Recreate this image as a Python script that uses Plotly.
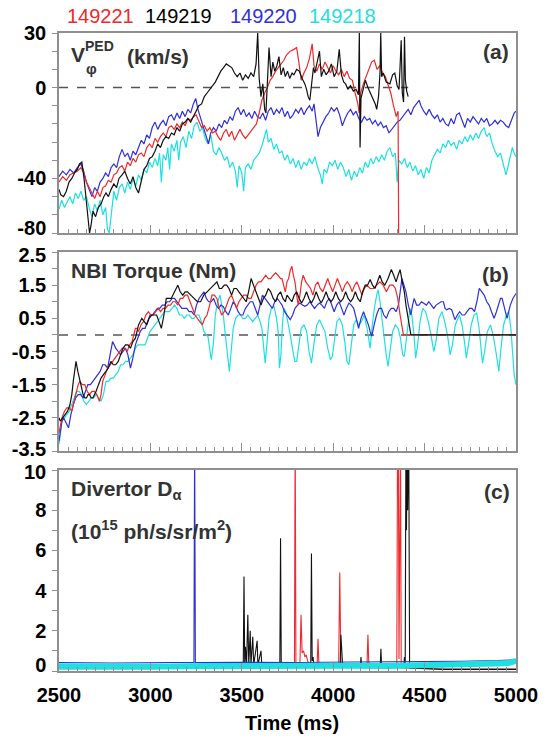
import plotly.graph_objects as go

# ---------------- data ----------------
SHOTS = ["149221", "149219", "149220", "149218"]
COLORS = {"149221": "#ee2a2a", "149219": "#111111", "149220": "#2f2fdc", "149218": "#1ee0e0"}

# Panel (a): pedestal toroidal rotation (plotted on the figure's visual scale)
a_cyan_t = [2500,2515,2530,2545,2560,2575,2590,2605,2620,2635,2650,2665,2680,2695,2710,2725,2740,2755,2765,2775,2785,2800,2815,2830,2845,2860,2875,2890,2905,2920,2935,2950,2965,2980,2995,3010,3025,3040,3050,3060,3070,3085,3095,3105,3115,3130,3145,3155,3165,3180,3195,3210,3225,3240,3255,3270,3285,3300,3315,3330,3345,3360,3375,3390,3405,3420,3435,3450,3465,3475,3485,3500,3510,3520,3535,3550,3565,3580,3595,3610,3625,3635,3645,3660,3675,3690,3705,3720,3735,3750,3765,3780,3795,3810,3825,3840,3855,3870,3885,3900,3915,3930,3940,3950,3965,3980,3995,4010,4025,4040,4055,4070,4085,4100,4115,4130,4145,4160,4175,4190,4205,4220,4235,4250,4265,4280,4295,4310,4325,4340,4350,4360,4375,4390,4405,4420,4435,4450,4465,4480,4495,4510,4525,4540,4555,4570,4585,4600,4615,4630,4645,4660,4675,4690,4705,4720,4735,4750,4765,4780,4795,4810,4825,4840,4855,4870,4885,4900,4915,4930,4945,4955,4965,4980,4990,5000]
a_cyan_v = [-67,-62,-66,-63,-60,-64,-58,-61,-57,-62,-60,-66,-71,-64,-68,-62,-70,-66,-78,-80,-70,-57,-62,-55,-53,-58,-52,-56,-50,-54,-48,-51,-45,-47,-41,-44,-39,-43,-36,-52,-37,-40,-33,-45,-31,-35,-29,-40,-30,-27,-33,-24,-28,-21,-19,-24,-22,-28,-31,-26,-35,-37,-33,-36,-40,-38,-44,-41,-46,-55,-43,-47,-57,-44,-42,-45,-40,-38,-36,-32,-26,-23,-30,-28,-34,-31,-36,-35,-40,-37,-42,-39,-44,-40,-45,-41,-43,-39,-42,-38,-44,-48,-53,-45,-47,-41,-43,-40,-45,-41,-44,-49,-45,-51,-46,-49,-44,-47,-41,-44,-39,-42,-38,-41,-37,-40,-35,-33,-38,-36,-52,-40,-42,-39,-44,-41,-46,-43,-48,-45,-50,-44,-47,-40,-37,-34,-36,-31,-33,-29,-32,-30,-34,-29,-31,-27,-30,-26,-29,-25,-28,-24,-22,-27,-25,-31,-35,-38,-36,-42,-48,-44,-39,-33,-36,-38]

a_blue_t = [2500,2520,2540,2560,2580,2600,2620,2635,2650,2665,2680,2695,2710,2725,2740,2755,2770,2785,2800,2815,2830,2845,2860,2875,2890,2905,2920,2935,2950,2965,2980,2995,3010,3025,3040,3055,3070,3085,3100,3115,3130,3145,3160,3175,3190,3205,3220,3235,3248,3260,3275,3290,3305,3318,3330,3345,3360,3375,3390,3405,3420,3435,3450,3465,3480,3495,3510,3525,3540,3555,3570,3585,3600,3615,3630,3645,3660,3675,3690,3705,3720,3735,3750,3765,3780,3795,3810,3825,3840,3855,3870,3885,3895,3905,3917,3930,3945,3960,3975,3990,4005,4020,4035,4050,4065,4080,4095,4110,4125,4140,4155,4170,4185,4200,4215,4230,4245,4260,4275,4290,4305,4320,4335,4350,4365,4380,4395,4410,4425,4440,4455,4470,4480,4495,4510,4525,4540,4555,4570,4585,4600,4615,4630,4645,4660,4675,4690,4705,4720,4735,4750,4765,4780,4795,4810,4825,4840,4855,4870,4885,4900,4915,4930,4945,4960,4975,4990,5000]
a_blue_v = [-49,-46,-48,-45,-47,-44,-42,-46,-52,-56,-60,-55,-57,-52,-50,-47,-49,-44,-42,-44,-38,-34,-38,-36,-40,-35,-37,-33,-29,-31,-26,-28,-22,-19,-23,-20,-18,-21,-16,-15,-18,-14,-17,-13,-16,-12,-14,-9,-6,-12,-17,-21,-27,-31,-25,-22,-24,-20,-22,-18,-20,-16,-18,-13,-11,-15,-12,-16,-14,-17,-13,-16,-17,-14,-18,-13,-11,-15,-12,-14,-11,-16,-13,-17,-15,-12,-14,-11,-15,-12,-10,-13,-9,-18,-27,-22,-19,-16,-14,-11,-13,-11,-15,-21,-17,-14,-12,-15,-13,-17,-19,-16,-18,-17,-20,-18,-21,-19,-22,-21,-25,-23,-21,-19,-18,-16,-14,-12,-15,-11,-9,-7,-10,-13,-15,-12,-15,-17,-15,-19,-17,-20,-21,-17,-20,-15,-14,-18,-22,-17,-19,-16,-18,-20,-17,-19,-17,-21,-20,-18,-20,-18,-19,-21,-22,-18,-14,-13]

a_red_t = [2500,2520,2540,2560,2580,2600,2620,2635,2650,2665,2680,2695,2710,2725,2740,2755,2770,2785,2800,2815,2830,2845,2860,2875,2890,2905,2920,2935,2950,2965,2980,2995,3010,3025,3040,3055,3070,3085,3100,3115,3130,3145,3160,3175,3190,3205,3220,3235,3250,3265,3280,3295,3310,3325,3340,3355,3370,3385,3400,3415,3430,3445,3460,3475,3490,3505,3520,3535,3550,3565,3580,3595,3610,3625,3640,3655,3670,3685,3700,3715,3730,3745,3765,3785,3800,3812,3825,3840,3855,3870,3885,3895,3910,3925,3940,3955,3970,3985,4000,4015,4030,4045,4060,4075,4090,4105,4120,4135,4142,4150,4165,4180,4195,4210,4225,4240,4255,4270,4285,4300,4315,4330,4345,4355,4358]
a_red_v = [-52,-49,-51,-48,-47,-46,-44,-47,-52,-55,-58,-61,-57,-60,-55,-54,-51,-52,-48,-47,-44,-43,-46,-41,-43,-39,-41,-37,-36,-38,-33,-31,-33,-28,-30,-27,-25,-27,-22,-21,-23,-20,-22,-19,-21,-17,-18,-16,-15,-19,-22,-21,-24,-22,-25,-24,-27,-29,-25,-23,-27,-24,-29,-26,-23,-26,-28,-26,-24,-22,-20,-14,-7,-3,0,4,6,9,11,13,15,18,20,21,22,14,4,8,11,16,24,12,9,13,10,14,11,8,12,9,7,10,6,9,5,4,-3,-9,-14,-3,2,6,11,14,15,10,12,8,6,2,-3,-10,-16,-13,-80]

a_black_t = [2500,2510,2525,2540,2555,2570,2585,2600,2612,2625,2637,2650,2660,2667,2675,2686,2700,2715,2730,2745,2757,2770,2785,2800,2815,2828,2845,2860,2875,2890,2905,2920,2935,2950,2965,2980,2995,3010,3025,3040,3055,3070,3085,3100,3115,3130,3145,3160,3175,3190,3205,3220,3235,3250,3265,3280,3295,3310,3325,3340,3355,3370,3385,3400,3415,3430,3445,3460,3475,3490,3505,3520,3535,3550,3565,3578,3587,3595,3605,3615,3625,3632,3640,3649,3660,3670,3680,3692,3703,3715,3727,3738,3750,3762,3775,3785,3800,3815,3830,3845,3854,3863,3872,3882,3892,3900,3912,3925,3935,3948,3961,3975,3990,4005,4020,4033,4045,4058,4068,4080,4095,4110,4125,4138,4143,4147,4152,4165,4176,4190,4203,4215,4230,4238,4248,4256,4260,4265,4274,4290,4310,4325,4337,4350,4360,4366,4372,4378,4385,4390,4395,4402,4410]
a_black_v = [-56,-59,-60,-57,-52,-50,-47,-45,-42,-41,-50,-64,-72,-80,-76,-68,-71,-66,-64,-60,-58,-60,-56,-53,-55,-50,-48,-46,-50,-53,-49,-55,-58,-52,-45,-43,-39,-38,-35,-31,-33,-29,-27,-28,-25,-26,-22,-24,-20,-19,-17,-19,-16,-13,-10,-9,-5,-3,-1,1,3,6,9,11,13,12,11,8,6,8,4,7,5,8,6,13,30,5,-5,2,-12,-14,8,22,6,14,9,12,17,7,11,6,9,5,8,7,10,9,5,2,-1,-5,-7,4,11,8,14,20,6,10,7,9,13,6,9,21,7,3,2,-1,1,-2,-1,-4,30,-33,-6,-1,4,0,-3,-6,-9,-12,-5,8,30,6,8,3,2,7,8,1,-1,12,26,-3,-8,28,4,-2,-5]

# Panel (b): NBI torque
b_black_t = [2500,2507,2520,2534,2547,2560,2570,2578,2586,2593,2603,2614,2623,2632,2641,2650,2659,2667,2676,2685,2694,2703,2716,2730,2743,2757,2770,2784,2797,2810,2824,2837,2850,2864,2877,2891,2904,2918,2935,2953,2967,2980,2993,3007,3020,3034,3047,3060,3074,3087,3100,3114,3132,3150,3163,3177,3190,3203,3221,3239,3257,3275,3292,3310,3328,3346,3364,3377,3390,3404,3417,3430,3444,3457,3471,3484,3497,3510,3524,3537,3551,3564,3578,3591,3605,3618,3631,3645,3658,3672,3685,3698,3712,3725,3738,3747,3760,3774,3787,3800,3814,3827,3840,3854,3867,3881,3894,3907,3921,3934,3947,3961,3974,3988,4001,4014,4028,4041,4055,4068,4082,4095,4108,4121,4135,4148,4161,4175,4188,4202,4215,4228,4242,4255,4268,4282,4300,4318,4331,4344,4355,4366,4378,4389,4398,4407,4416,4425,4700,5000]
b_black_v = [-2.5,-2.6,-2.5,-2.4,-2.3,-2.1,-1.8,-1.4,-1.0,-0.8,-1.1,-1.4,-1.6,-1.8,-1.9,-1.9,-1.8,-1.8,-1.9,-1.9,-1.8,-1.7,-1.5,-1.3,-1.2,-1.1,-1.0,-0.8,-0.9,-0.9,-0.8,-0.6,-0.4,-0.3,-0.3,-0.4,-0.2,-0.1,0.3,0.5,0.4,0.3,0.5,0.6,0.6,0.6,0.4,0.2,0.6,1.1,1.1,1.1,1.3,1.5,1.3,1.2,1.3,1.3,1.2,1.1,1.0,1.0,1.2,1.3,1.4,1.5,1.6,1.4,1.4,1.5,1.5,1.4,1.2,1.4,1.4,1.3,1.2,1.1,1.0,1.3,1.7,1.5,1.3,1.1,0.9,1.1,1.2,1.4,1.3,1.1,1.0,1.2,1.3,1.1,1.0,1.2,1.1,1.0,1.2,1.3,1.1,0.96,1.1,1.3,1.1,0.96,1.1,1.3,1.1,0.96,1.1,1.3,1.1,1.0,1.1,1.3,1.1,1.0,1.1,1.3,1.1,1.0,1.1,1.3,1.1,1.0,1.3,1.5,1.5,1.67,1.5,1.4,1.6,1.8,1.6,1.5,1.7,1.97,1.8,1.6,1.8,1.97,1.6,1.3,0.9,0.6,0.3,0.0,0.0,0.0]

b_red_t = [2500,2508,2516,2530,2543,2556,2570,2583,2596,2605,2614,2627,2641,2654,2667,2680,2694,2707,2721,2730,2739,2752,2766,2780,2793,2806,2819,2833,2846,2860,2873,2886,2900,2909,2918,2927,2935,2948,2962,2975,2989,3002,3016,3029,3043,3056,3069,3083,3096,3110,3123,3136,3150,3163,3177,3190,3203,3217,3230,3244,3257,3270,3284,3297,3310,3324,3337,3350,3364,3377,3390,3404,3417,3430,3444,3457,3471,3484,3497,3510,3524,3537,3551,3564,3578,3591,3605,3618,3631,3645,3658,3672,3685,3698,3712,3720,3729,3738,3747,3756,3765,3774,3782,3791,3800,3809,3818,3827,3836,3850,3863,3876,3889,3903,3916,3929,3943,3956,3970,3983,3997,4010,4023,4037,4050,4064,4077,4090,4104,4117,4130,4144,4157,4170,4184,4202,4220,4238,4255,4273,4291,4309,4327,4340,4353,4366,4375,4384,4700,5000]
b_red_v = [-2.96,-2.7,-2.5,-2.3,-2.2,-2.2,-2.3,-2.0,-1.7,-1.5,-1.4,-1.5,-1.5,-1.7,-1.8,-1.7,-1.7,-1.8,-2.0,-1.8,-1.4,-1.2,-1.0,-0.9,-0.8,-0.7,-0.6,-0.5,-0.4,-0.4,-0.5,-0.3,-0.2,0.0,0.2,0.2,0.1,0.3,0.4,0.6,0.7,0.6,0.6,0.7,0.8,0.7,0.8,0.8,0.9,0.9,1.0,1.0,0.9,1.1,1.1,1.2,1.2,1.0,0.8,0.6,0.5,0.4,0.3,0.5,0.6,0.9,1.2,1.2,1.1,0.8,0.6,0.7,0.9,1.1,1.2,1.0,0.8,1.0,1.1,1.2,1.2,1.1,1.1,1.3,1.5,1.6,1.6,1.7,1.8,1.7,1.7,1.8,1.87,1.8,1.7,1.7,1.5,1.3,1.6,1.7,1.95,2.07,1.8,1.6,1.2,0.9,1.2,1.6,1.8,1.6,1.5,1.4,1.2,1.5,1.6,1.4,1.3,1.5,1.7,1.5,1.3,1.5,1.7,1.5,1.3,1.5,1.6,1.5,1.3,1.5,1.6,1.4,1.2,1.4,1.5,1.4,1.4,1.5,1.6,1.5,1.3,1.5,1.5,1.4,1.1,0.6,0.3,0.0,0.0,0.0]

b_blue_t = [2500,2507,2516,2525,2534,2543,2552,2565,2578,2591,2605,2618,2632,2645,2658,2672,2685,2698,2712,2725,2739,2752,2766,2780,2793,2802,2810,2824,2837,2850,2864,2877,2891,2904,2918,2931,2944,2957,2971,2984,2998,3011,3025,3038,3051,3065,3078,3092,3105,3118,3132,3145,3159,3172,3185,3199,3212,3226,3239,3252,3266,3279,3293,3306,3319,3333,3346,3359,3373,3386,3399,3413,3426,3440,3453,3466,3480,3493,3506,3520,3533,3546,3560,3573,3587,3600,3613,3627,3640,3653,3667,3680,3694,3707,3720,3734,3747,3756,3765,3778,3791,3805,3818,3832,3845,3858,3872,3885,3898,3912,3925,3938,3952,3965,3979,3992,4005,4019,4032,4046,4059,4072,4086,4099,4112,4126,4139,4152,4166,4179,4193,4202,4211,4224,4237,4251,4264,4277,4291,4304,4318,4331,4344,4357,4366,4376,4387,4398,4411,4425,4434,4443,4456,4469,4483,4496,4510,4523,4537,4550,4563,4576,4590,4603,4612,4621,4635,4648,4657,4666,4679,4692,4705,4719,4732,4746,4759,4773,4786,4799,4813,4826,4840,4853,4866,4880,4893,4906,4915,4924,4937,4951,4960,4969,4983,5000]
b_blue_v = [-3.2,-2.85,-2.6,-2.5,-2.6,-2.75,-2.8,-2.4,-2.1,-1.9,-1.8,-1.8,-1.9,-1.7,-1.5,-1.5,-1.4,-1.3,-1.2,-1.1,-0.9,-0.9,-1.0,-0.6,-0.2,-0.3,-0.4,-0.5,-0.6,-0.5,-0.4,-0.6,-1.0,-0.7,-0.3,-0.1,0.1,0.2,0.2,0.4,0.6,0.6,0.7,0.8,0.8,0.9,0.9,1.0,1.0,1.1,1.1,1.0,0.9,0.8,0.8,0.8,0.7,0.7,0.6,0.9,1.1,1.2,1.3,1.1,1.0,1.0,1.1,0.9,0.8,0.9,0.85,0.7,0.6,0.8,1.0,0.9,0.7,0.6,0.6,0.8,0.9,1.0,1.0,0.8,0.6,0.9,1.2,1.1,1.0,0.9,0.8,1.0,1.1,1.0,0.9,0.7,0.6,0.5,0.46,0.6,0.8,0.9,0.96,0.9,0.86,0.9,1.0,0.9,0.8,0.9,0.96,0.9,0.8,1.0,1.1,0.9,0.7,0.9,1.0,0.8,0.6,0.8,0.96,0.9,0.8,0.5,0.2,0.5,0.7,0.5,0.3,0.1,-0.04,0.3,0.6,0.8,0.8,0.6,0.5,0.7,0.8,0.8,0.7,0.9,1.3,1.7,1.5,1.3,0.9,0.6,0.9,1.1,0.9,0.9,1.0,0.96,0.9,1.0,0.9,0.8,0.9,0.96,1.0,1.0,0.8,0.76,0.8,0.76,0.6,0.46,0.6,0.7,0.6,0.6,0.7,0.8,0.8,0.7,1.0,1.4,1.3,1.2,1.0,0.9,0.7,0.5,0.7,0.9,1.1,1.1,0.8,0.5,0.7,0.9,1.1,1.25]

b_cyan_t = [2500,2508,2516,2530,2543,2556,2570,2583,2596,2610,2623,2636,2650,2663,2676,2690,2703,2716,2730,2743,2757,2770,2784,2797,2810,2824,2837,2850,2864,2877,2891,2904,2918,2931,2944,2957,2971,2984,2998,3011,3025,3038,3051,3065,3078,3092,3105,3118,3132,3145,3159,3172,3185,3199,3212,3226,3239,3252,3266,3279,3293,3304,3315,3324,3333,3344,3355,3368,3381,3390,3399,3408,3417,3425,3432,3440,3453,3466,3480,3493,3506,3520,3533,3546,3560,3573,3587,3600,3610,3620,3628,3637,3649,3662,3676,3690,3699,3706,3714,3722,3730,3741,3752,3765,3780,3790,3800,3812,3825,3840,3855,3868,3881,3894,3910,3925,3940,3955,3970,3985,3995,4008,4020,4035,4050,4063,4075,4086,4098,4112,4126,4140,4155,4170,4185,4195,4202,4212,4225,4238,4246,4256,4268,4280,4290,4300,4312,4325,4340,4355,4368,4380,4389,4400,4412,4420,4430,4442,4451,4462,4475,4490,4505,4520,4535,4550,4562,4578,4595,4610,4625,4640,4652,4668,4690,4705,4718,4728,4740,4755,4770,4785,4798,4808,4817,4828,4843,4860,4875,4890,4906,4918,4932,4948,4960,4972,4982,4990,5000]
b_cyan_v = [-3.3,-2.9,-2.6,-2.5,-2.4,-2.3,-2.1,-1.9,-1.7,-1.7,-1.8,-2.0,-2.1,-2.0,-1.9,-1.9,-1.8,-1.9,-2.0,-1.8,-1.4,-1.4,-1.3,-1.3,-1.2,-1.1,-0.9,-0.9,-0.8,-0.8,-0.7,-0.6,-0.4,-0.3,-0.3,-0.3,-0.3,-0.1,0.1,0.2,0.3,0.4,0.5,0.6,0.7,0.7,0.7,0.8,0.9,0.8,0.6,0.6,0.5,0.6,0.6,0.5,0.5,0.6,0.6,0.4,0.1,0.0,-0.05,-0.4,-0.75,-0.3,0.6,1.0,1.2,0.9,0.6,0.1,-0.4,-0.9,-1.1,-0.6,0.2,0.5,0.6,0.6,0.5,0.5,0.6,0.5,0.4,0.5,0.6,0.4,0.2,-0.4,-0.85,-0.3,0.5,0.8,0.86,0.5,0.1,-1.0,-0.6,0.3,0.8,0.7,0.4,0.0,-0.5,-0.8,-0.8,-0.3,0.2,0.3,0.1,-0.5,-0.85,-0.3,0.3,0.46,0.3,0.1,-0.4,-0.75,-0.65,0.0,0.4,0.5,0.3,-0.2,-0.8,-0.9,-0.3,0.3,0.46,0.3,0.4,0.6,0.2,-0.2,-0.4,0.2,0.8,1.2,1.36,1.0,0.4,-0.1,-0.6,-0.95,-0.5,0.1,0.3,0.2,-0.1,-0.6,-0.65,-0.1,0.5,0.8,0.6,0.0,-0.7,-0.3,0.4,0.8,0.7,0.4,0.0,-0.5,-0.2,0.5,0.7,0.4,0.0,-0.6,-0.3,0.3,0.6,0.3,-0.2,-0.7,-0.3,0.3,0.6,0.66,0.2,-0.4,-0.85,-0.5,0.1,0.3,0.0,-0.5,-1.1,-0.4,0.3,0.6,0.7,0.2,-0.6,-1.2,-1.5]

# Panel (c): divertor D-alpha
c_cyan_t = [2500,2700,2900,3100,3300,3500,3700,3900,4100,4300,4500,4700,4850,4950,5000]
c_cyan_v = [0.24,0.22,0.24,0.22,0.25,0.27,0.25,0.24,0.26,0.25,0.27,0.3,0.33,0.38,0.5]
c_blue_t = [2500,2800,3100,3238,3242,3246,3500,3800,4100,4400,4700,4900,5000]
c_blue_v = [0.42,0.4,0.42,0.42,12,0.42,0.43,0.42,0.45,0.45,0.48,0.52,0.56]
c_red_t = [2500,3000,3500,3788,3792,3796,3818,3824,3830,3838,3845,3852,3860,3868,3912,3917,3922,4030,4036,4042,4185,4190,4195,4348,4352,4356,4360,4364,4368,4372,4600,5000]
c_red_v = [0.28,0.3,0.28,0.3,12,0.3,0.3,2.8,0.9,1.0,0.7,0.8,0.5,0.3,0.3,1.6,0.3,0.3,4.9,0.3,0.3,1.8,0.3,0.3,12,12,0.6,12,12,0.15,0.1,0.1]
c_black_t = [2500,3000,3508,3512,3516,3520,3526,3533,3538,3546,3550,3560,3565,3584,3588,3605,3610,3708,3712,3716,3877,3881,3885,3890,3895,4038,4042,4046,4052,4148,4152,4156,4257,4261,4265,4386,4390,4394,4398,4401,4404,4407,4410,4413,4418,4600,5000]
c_black_v = [0.12,0.12,0.2,4.7,0.3,1.2,0.3,2.8,0.3,2.0,0.3,1.7,0.3,1.5,0.3,1.0,0.2,0.2,6.6,0.2,0.2,5.85,0.5,0.7,0.2,0.2,1.8,0.8,0.2,0.2,0.7,0.2,0.2,1.1,0.2,0.2,0.7,0.3,12,7,12,8,12,12,0.15,0.08,0.08]

# tick labels (value where the label sits, label text)
A_TICKS = [(30, "30"), (0, "0"), (-50, "-40"), (-77, "-80")]
B_TICKS = [(2.4, "2.5"), (1.5, "1.5"), (0.5, "0.5"), (-0.5, "-0.5"), (-1.5, "-1.5"), (-2.5, "-2.5"), (-3.45, "-3.5")]
C_TICKS = [(0.3, "0"), (2, "2"), (4, "4"), (6, "6"), (8, "8"), (9.9, "10")]

ZERO_A_END = 4410
X_RANGE = [2500, 5000]

# ---------------- figure ----------------
W, H = 550, 738
L, R, T, B = 57, 26, 33, 67
PW, PH = W - L - R, H - T - B

def px(x):
    return (x - L) / PW

def py(y):
    return (H - B - y) / PH

def dom(top, bottom):
    return [py(bottom), py(top)]

fig = go.Figure()

series_a = [("149218", a_cyan_t, a_cyan_v), ("149220", a_blue_t, a_blue_v),
            ("149221", a_red_t, a_red_v), ("149219", a_black_t, a_black_v)]
series_b = [("149218", b_cyan_t, b_cyan_v), ("149220", b_blue_t, b_blue_v),
            ("149221", b_red_t, b_red_v), ("149219", b_black_t, b_black_v)]
series_c = [("149221", c_red_t, c_red_v), ("149219", c_black_t, c_black_v),
            ("149220", c_blue_t, c_blue_v)]

for shot, t, v in series_a:
    fig.add_trace(go.Scatter(x=t, y=v, mode="lines", line=dict(color=COLORS[shot], width=1.2),
                             xaxis="x", yaxis="y", showlegend=False))
for shot, t, v in series_b:
    fig.add_trace(go.Scatter(x=t, y=v, mode="lines", line=dict(color=COLORS[shot], width=1.2),
                             xaxis="x2", yaxis="y2", showlegend=False))
for shot, t, v in series_c:
    fig.add_trace(go.Scatter(x=t, y=v, mode="lines", line=dict(color=COLORS[shot], width=1.1),
                             xaxis="x3", yaxis="y3", showlegend=False))
fig.add_trace(go.Scatter(x=c_cyan_t, y=c_cyan_v, mode="lines", line=dict(color=COLORS["149218"], width=6),
                         xaxis="x3", yaxis="y3", showlegend=False))

FRAME = "#8f8f8f"
tickfont = dict(family="Liberation Sans, Arial, sans-serif", size=20, color="black", weight="bold")

def xax(domain_anchor, show_labels):
    return dict(range=X_RANGE, domain=[0, 1], anchor=domain_anchor, showgrid=False, zeroline=False,
                showline=True, linecolor=FRAME, linewidth=1.5, mirror=True,
                ticks="inside", ticklen=8, tickcolor=FRAME, tickwidth=1, dtick=500, tick0=2500,
                minor=dict(dtick=50, ticks="inside", ticklen=4, tickcolor=FRAME, tickwidth=1),
                showticklabels=show_labels, tickfont=tickfont, ticklabelstandoff=5)

def yax(domain, rng, ticks, minor_dtick, anchor):
    return dict(range=rng, domain=domain, anchor=anchor, showgrid=False, zeroline=False,
                showline=True, linecolor=FRAME, linewidth=1.5, mirror=True,
                ticks="", tickmode="array",
                tickvals=[v for v, _ in ticks], ticktext=[s for _, s in ticks], tickfont=tickfont,
                ticklabelstandoff=7,
                minor=dict(tick0=0, dtick=minor_dtick, ticks="outside", ticklen=5,
                           tickcolor=FRAME, tickwidth=1))

fig.update_layout(
    width=W, height=H, margin=dict(l=L, r=R, t=T, b=B),
    paper_bgcolor="white", plot_bgcolor="white",
    xaxis=xax("y", False), xaxis2=xax("y2", False), xaxis3=xax("y3", True),
    yaxis=yax(dom(33, 233), [-80, 30], A_TICKS, 10, "x"),
    yaxis2=yax(dom(252, 451), [-3.5, 2.5], B_TICKS, 0.5, "x2"),
    yaxis3=yax(dom(470, 671), [0, 10], C_TICKS, 1, "x3"),
)

fig.add_shape(type="line", xref="x", yref="y", x0=X_RANGE[0], x1=ZERO_A_END, y0=0, y1=0,
              line=dict(color="#555555", width=1.5, dash="dash"), layer="below")
fig.add_shape(type="line", xref="x2", yref="y2", x0=X_RANGE[0], x1=X_RANGE[1], y0=0, y1=0,
              line=dict(color="#555555", width=1.5, dash="dash"), layer="below")

TXT = "#333333"
FAM = "Liberation Sans, Arial, sans-serif"

def ann(text, x, y, size, color=TXT, xanchor="left", bold=True):
    fig.add_annotation(text=text, x=px(x), y=py(y), xref="paper", yref="paper",
                       xanchor=xanchor, yanchor="middle", showarrow=False,
                       font=dict(family=FAM, size=size, color=color, weight="bold" if bold else "normal"))

# shot legend
for shot, cx in zip(SHOTS, [99, 179, 266, 347]):
    ann(shot, cx, 16, 20, color=COLORS[shot] if shot != "149219" else "#000000", xanchor="center", bold=False)

ann("V", 67, 55, 21)
ann("PED", 82, 46, 14)
ann("φ", 83, 69, 15)
ann("(km/s)", 124, 57, 21)
ann("NBI Torque (Nm)", 67, 270, 21)
ann("Divertor D<sub>α</sub>", 67, 490, 21)
ann("(10<sup>15</sup> ph/s/sr/m<sup>2</sup>)", 67, 530, 21)
ann("(a)", 519, 51, 21, xanchor="right")
ann("(b)", 519, 274, 21, xanchor="right")
ann("(c)", 520, 491, 21, xanchor="right")
ann("Time (ms)", 295, 723, 20, color="black", xanchor="center")

fig.write_html("out.html")
